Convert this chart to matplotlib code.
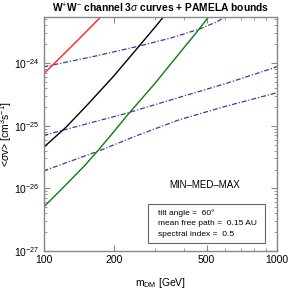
import numpy as np
import matplotlib
matplotlib.use('Agg')
from matplotlib import pyplot as plt
from matplotlib.patches import Rectangle
from matplotlib.ticker import FixedLocator, NullFormatter, LogLocator

plt.rcParams['font.family'] = ['Liberation Sans', 'DejaVu Sans']
plt.rcParams['mathtext.fontset'] = 'custom'
plt.rcParams['mathtext.rm'] = 'Liberation Sans'
plt.rcParams['mathtext.it'] = 'Liberation Sans:italic'
plt.rcParams['mathtext.bf'] = 'Liberation Sans:bold'

# 3 sigma curves (W+W- channel)
m_red = [100, 120, 140, 160, 178]
sv_red = [6.7e-25, 1.3e-24, 2.3e-24, 3.8e-24, 5.7e-24]

m_black = [100, 125, 155, 200, 254, 300, 330]
sv_black = [4.5e-26, 9.5e-26, 2.2e-25, 6.2e-25, 1.77e-24, 3.7e-24, 5.7e-24]

m_green = [100, 125, 150, 174, 200, 228, 300, 383, 450, 515]
sv_green = [5.0e-27, 1.15e-26, 2.3e-26, 4.3e-26, 8.0e-26, 1.45e-25, 4.7e-25, 1.44e-24, 3.0e-24, 5.7e-24]

# PAMELA bounds (MIN, MED, MAX)
m_max = [100, 168, 254, 350, 468, 550, 615]
sv_max = [8.7e-25, 1.3e-24, 1.85e-24, 2.5e-24, 3.5e-24, 4.5e-24, 5.7e-24]

m_med = [100, 150, 227, 350, 608, 800, 1000]
sv_med = [7.0e-26, 1.05e-25, 1.58e-25, 2.57e-25, 4.74e-25, 6.6e-25, 8.7e-25]

m_min = [100, 174, 250, 383, 600, 1000]
sv_min = [1.9e-26, 4.0e-26, 6.9e-26, 1.25e-25, 2.03e-25, 3.35e-25]

xticks = [100, 200, 500, 1000]
xminor = [300, 400, 600, 700, 800, 900]

fig = plt.figure(figsize=(2.95, 2.95), dpi=100)
ax = fig.add_axes([0.1475, 0.149, 0.7905, 0.7945])

blue = '#3a3aaa'
dd = (0, (4, 1.5, 1, 1.5))
ax.plot(m_max, sv_max, color=blue, lw=0.9, ls=dd)
ax.plot(m_med, sv_med, color=blue, lw=0.9, ls=dd)
ax.plot(m_min, sv_min, color=blue, lw=0.9, ls=dd)
ax.plot(m_red, sv_red, color='#ff2020', lw=1.0)
ax.plot(m_black, sv_black, color='black', lw=1.0)
ax.plot(m_green, sv_green, color='#107a10', lw=1.0)

ax.set_xscale('log')
ax.set_yscale('log')
ax.set_xlim(100, 1000)
ax.set_ylim(1e-27, 5.5e-24)

ax.xaxis.set_major_locator(FixedLocator(xticks))
ax.xaxis.set_minor_locator(FixedLocator(xminor))
ax.set_xticklabels([str(t) for t in xticks])
ax.xaxis.set_minor_formatter(NullFormatter())
ax.yaxis.set_major_locator(LogLocator(base=10, numticks=10))
ax.yaxis.set_minor_locator(LogLocator(base=10, subs=np.arange(2, 10), numticks=10))
ax.yaxis.set_minor_formatter(NullFormatter())

for s in ax.spines.values():
    s.set_color('#888888')
    s.set_linewidth(1.0)
ax.tick_params(which='both', direction='in', top=True, right=True, color='#888888',
               labelsize=7.5, pad=3)
ax.tick_params(which='major', length=4, width=0.8)
ax.tick_params(which='minor', length=2.5, width=0.6)

ax.set_title(r'W$^{+}$W$^{-}$ channel 3$\sigma$ curves + PAMELA bounds',
             fontsize=7.4, fontweight='bold', pad=3)
ax.set_xlabel(r'm$_{\rm DM}$ [GeV]', fontsize=7.5)
ax.xaxis.set_label_coords(0.5, -0.105)
ax.set_ylabel(r'<$\sigma$v> [cm$^{3}$s$^{-1}$]', fontsize=7.5)
ax.yaxis.set_label_coords(-0.125, 0.5)

ax.text(0.69, 0.28, 'MIN\u2013MED\u2013MAX', transform=ax.transAxes,
        ha='center', va='center', fontsize=7)
ax.add_patch(Rectangle((0.45, 0.035), 0.5, 0.165, transform=ax.transAxes,
                       fill=False, edgecolor='#666666', lw=0.8))
ax.text(0.49, 0.163, 'tilt angle =  60\u00b0', transform=ax.transAxes,
        ha='left', va='center', fontsize=6)
ax.text(0.49, 0.117, 'mean free path =  0.15 AU', transform=ax.transAxes,
        ha='left', va='center', fontsize=6)
ax.text(0.49, 0.071, 'spectral index =  0.5', transform=ax.transAxes,
        ha='left', va='center', fontsize=6)

fig.savefig('out.png', dpi=100)
